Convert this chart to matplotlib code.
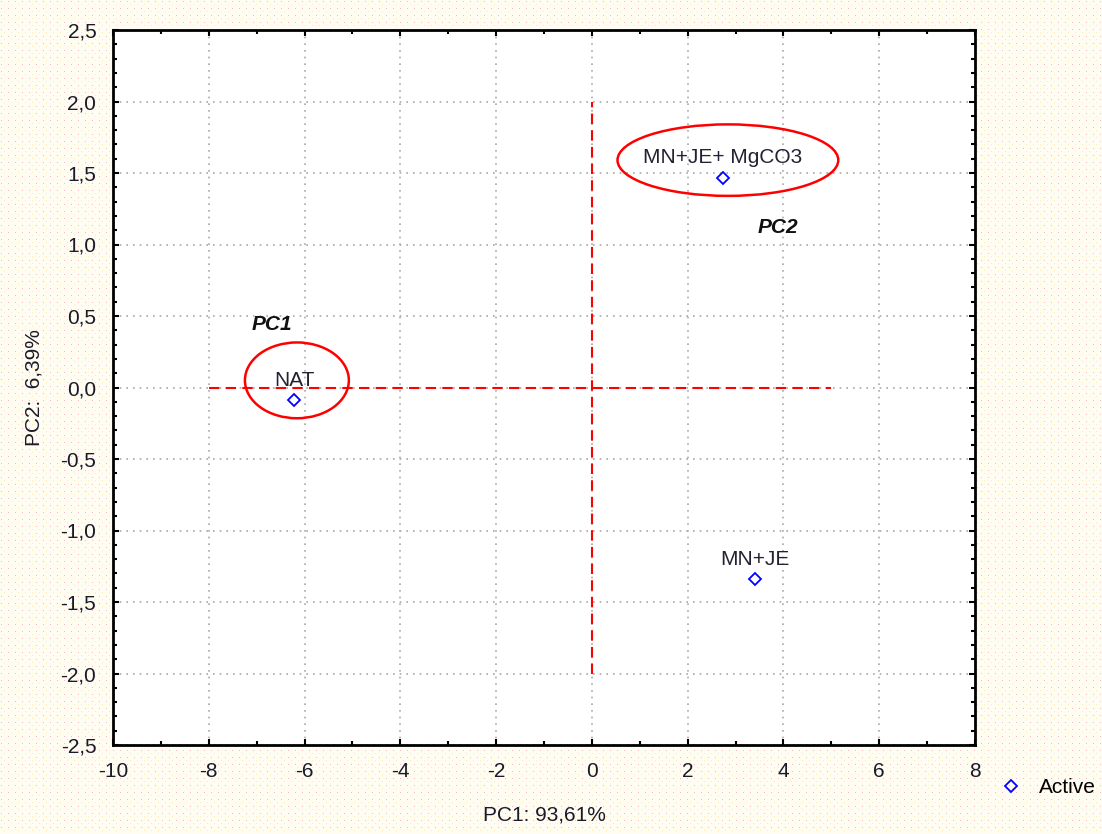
import numpy as np
import matplotlib
matplotlib.use("Agg")
import matplotlib.pyplot as plt
from matplotlib.patches import Ellipse
from matplotlib.ticker import MultipleLocator, FuncFormatter

# ------------ Data -------------
labels = ["NAT", "MN+JE+ MgCO3", "MN+JE"]
pc1 = [-6.22, 2.73, 3.40]
pc2 = [-0.09, 1.465, -1.34]
label_y = [0.05, 1.61, -1.20]

# group ellipses: center x, center y, width, height
ell_x = [-6.16, 2.84]
ell_y = [0.05, 1.59]
ell_w = [2.17, 4.61]
ell_h = [0.53, 0.50]

group_names = ["PC1", "PC2"]
group_x = [-6.68, 3.88]
group_y = [0.44, 1.12]

plt.rcParams["font.family"] = ["Liberation Sans", "DejaVu Sans"]

fig = plt.figure(figsize=(11.02, 8.34), dpi=100)

# dotted cream background like the original screenshot
H, W = 834, 1102
bg = np.ones((H, W, 3))
bg[:] = (1.0, 0.995, 0.95)
bg[1::7, 1::7] = (0.97, 0.72, 0.78)
bg[4::7, 4::7] = (1.0, 0.92, 0.70)
fig.figimage(bg, 0, 0, zorder=-10)

ax = fig.add_axes([113 / W, 1 - 745 / H, (975 - 113) / W, (745 - 30) / H])
ax.set_facecolor("white")

ax.set_xlim(-10, 8)
ax.set_ylim(-2.5, 2.5)
ax.xaxis.set_major_locator(MultipleLocator(2))
ax.xaxis.set_minor_locator(MultipleLocator(1))
ax.yaxis.set_major_locator(MultipleLocator(0.5))
ax.yaxis.set_minor_locator(MultipleLocator(0.1))
ax.xaxis.set_major_formatter(FuncFormatter(lambda v, p: f"{v:.0f}"))
ax.yaxis.set_major_formatter(FuncFormatter(lambda v, p: f"{v:.1f}".replace(".", ",")))

ax.tick_params(which="both", direction="in", top=True, right=True,
               length=4, width=1.5, labelsize=15, pad=12, labelcolor="#1a1a2a")
ax.tick_params(which="minor", length=3)
for s in ax.spines.values():
    s.set_linewidth(2)

ax.grid(True, which="major", linestyle=(0, (1, 3)), color="#a8a8a8", linewidth=1.2)
ax.set_axisbelow(True)

# reference lines
ax.plot([-8, 5], [0, 0], color="red", linestyle=(0, (5, 3)), linewidth=1.5)
ax.plot([0, 0], [-2, 2], color="red", linestyle=(0, (5, 3)), linewidth=1.5)

for cx, cy, w, h in zip(ell_x, ell_y, ell_w, ell_h):
    ax.add_patch(Ellipse((cx, cy), w, h, fill=False, edgecolor="red", linewidth=1.8))

pts, = ax.plot(pc1, pc2, linestyle="none", marker="D", markersize=6,
               markerfacecolor="none", markeredgecolor="blue",
               markeredgewidth=1.3, label="Active")

for x, y, t in zip(pc1, label_y, labels):
    ax.text(x, y, t, fontsize=15, ha="center", va="center", color="#222233")

for x, y, t in zip(group_x, group_y, group_names):
    ax.text(x, y, t, fontsize=15, ha="center", va="center",
            fontweight="bold", fontstyle="italic", color="#111111")

ax.set_xlabel("PC1: 93,61%", fontsize=15, labelpad=18, color="#1a1a2a")
ax.set_ylabel("PC2:  6,39%", fontsize=15, labelpad=12, color="#1a1a2a")

ax.legend(handles=[pts], loc="center left", bbox_to_anchor=(1.002, -0.06),
          frameon=False, fontsize=15, handletextpad=0.6, handlelength=1.5)

fig.savefig("out.png", dpi=100)
